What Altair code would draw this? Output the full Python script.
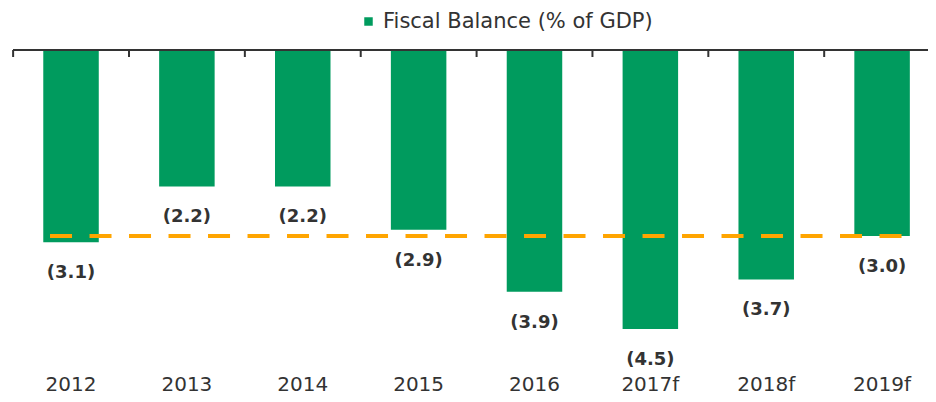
import altair as alt
import pandas as pd

years = ["2012", "2013", "2014", "2015", "2016", "2017f", "2018f", "2019f"]
balance = [-3.1, -2.2, -2.2, -2.9, -3.9, -4.5, -3.7, -3.0]
labels = ["(3.1)", "(2.2)", "(2.2)", "(2.9)", "(3.9)", "(4.5)", "(3.7)", "(3.0)"]
series_name = "Fiscal Balance (% of GDP)"
avg_value = -3.0

GREEN = "#009B5E"
ORANGE = "#FFA500"
TEXT = "#333333"
FONT = "DejaVu Sans"

df = pd.DataFrame({"year": years, "value": balance, "label": labels,
                   "series": [series_name] * len(years)})
avg_df = pd.DataFrame({"start": [years[0]], "end": [years[-1]], "avg": [avg_value]})
zero_df = pd.DataFrame({"zero": [0]})

xscale = alt.Scale(paddingInner=0.521, paddingOuter=0.209, align=0.625)
yscale = alt.Scale(domain=[-5.21, 0], nice=False, zero=False)

base = alt.Chart(df)

bars = base.mark_bar().encode(
    x=alt.X("year:N", sort=years, scale=xscale,
            axis=alt.Axis(orient="bottom", domain=False, ticks=False, tickSize=0,
                          labelFontSize=20, labelFont=FONT, labelColor=TEXT,
                          labelPadding=1, labelAngle=0, title=None)),
    y=alt.Y("value:Q", scale=yscale, axis=None),
    color=alt.Color("series:N", scale=alt.Scale(range=[GREEN]),
                    legend=alt.Legend(orient="none", legendX=345, legendY=-39,
                                      direction="horizontal", title=None,
                                      labelFontSize=21, labelFont=FONT,
                                      labelColor=TEXT, labelLimit=500,
                                      symbolType="square",
                                      symbolSize=72, symbolStrokeWidth=0,
                                      labelOffset=4, padding=0)),
)

avg_line = alt.Chart(avg_df).mark_rule(
    color=ORANGE, strokeWidth=4, strokeDash=[22, 17.5], xOffset=-21, x2Offset=20
).encode(
    x=alt.X("start:N", sort=years),
    x2="end:N",
    y=alt.Y("avg:Q"),
)

text = base.mark_text(dy=31, baseline="middle", fontWeight="bold",
                      fontSize=18, font=FONT, color=TEXT).encode(
    x=alt.X("year:N", sort=years),
    y=alt.Y("value:Q"),
    text="label:N",
)

zero = alt.Chart(zero_df).mark_rule(color=TEXT, strokeWidth=2).encode(
    y=alt.Y("zero:Q"))

# small ticks hanging from the zero line at the left edge of each category slot
ticks = base.mark_rule(color=TEXT, strokeWidth=2, xOffset=-57.9, y2Offset=7).encode(
    x=alt.X("year:N", sort=years),
    y=alt.datum(0),
    y2=alt.datum(0),
)

chart = alt.layer(bars, avg_line, text, zero, ticks).properties(
    width=915, height=323,
    padding={"left": 5, "top": 42, "right": 0, "bottom": 21},
    autosize=alt.AutoSizeParams(type="none"),
).configure_view(stroke=None)

chart.save("out.html", embed_options={"renderer": "svg", "actions": False})
